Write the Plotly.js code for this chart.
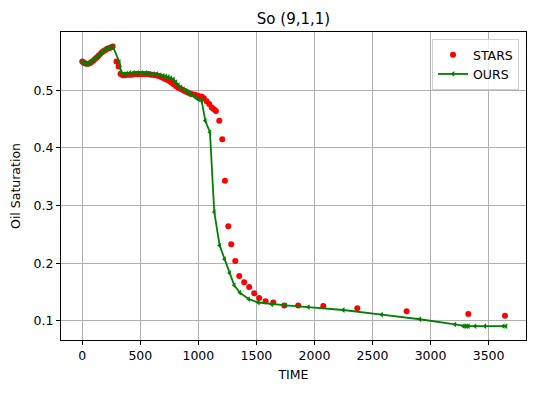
<!DOCTYPE html>
<html>
<head>
<meta charset="utf-8">
<script src="https://cdn.plot.ly/plotly-3.0.1.min.js"></script>
<style>html,body{margin:0;padding:0;background:#fff;}#chart{width:536px;height:393px;}</style>
</head>
<body>
<div id="chart"></div>
<script>
const starsTime = [0,10,20,35,50,65,80,95,110,125,140,155,170,185,200,215,230,245,262,295,313,330,
  350,370,390,410,430,450,470,490,510,530,550,570,590,610,630,
  650,670,690,710,730,750,770,790,810,830,850,870,890,910,930,950,
  972,1001,1028,1048,1071,1094,1115,1134,1151,
  1180,1206,1229,1258,1283,1318,1352,1395,1438,1481,
  1524,1579,1645,1740,1860,2076,2369,2794,3325,3641];
const starsSo = [0.550,0.548,0.547,0.546,0.546,0.547,0.549,0.551,0.554,0.557,
  0.560,0.563,0.566,0.568,0.570,0.572,0.573,0.574,0.576,
  0.550,0.541,0.528,
  0.526,0.526,0.527,0.527,0.527,0.528,0.528,0.528,0.528,0.528,0.528,0.528,0.527,0.527,0.526,
  0.525,0.524,0.522,0.520,0.518,0.516,0.513,0.510,0.507,0.504,0.502,0.500,0.498,0.496,0.494,0.493,
  0.492,0.490,0.489,0.486,0.481,0.476,0.470,0.467,0.464,
  0.447,0.415,0.343,0.264,0.233,0.204,0.178,0.167,0.159,0.148,
  0.140,0.134,0.132,0.127,0.127,0.126,0.122,0.117,0.112,0.109];

const oursTime = [0,15,30,45,60,75,90,105,120,135,150,165,180,195,210,225,240,252,264,319,
  333,360,382,410,439,475,511,547,583,612,641,670,698,720,741,763,785,806,827,849,
  870,892,913,932,951,968,985,1005,1028,1060,1100,1137,1183,1226,1269,1309,1358,1433,1516,1631,
  1754,1947,2248,2578,2908,3210,3282,3297,3311,3326,3383,3468,3626,3649];
const oursSo = [0.549,0.547,0.546,0.546,0.547,0.549,0.551,0.554,0.557,0.560,
  0.563,0.566,0.568,0.570,0.572,0.573,0.574,0.575,0.576,0.549,
  0.532,0.528,0.529,0.530,0.530,0.530,0.530,0.530,0.529,0.528,
  0.528,0.526,0.525,0.524,0.523,0.521,0.519,0.514,0.509,0.505,
  0.502,0.499,0.496,0.494,0.492,0.489,0.486,0.484,0.482,0.447,
  0.427,0.289,0.231,0.207,0.183,0.162,0.149,0.138,0.132,0.129,
  0.127,0.124,0.119,0.111,0.103,0.094,0.091,0.091,0.091,0.091,
  0.091,0.091,0.091,0.091];

const xTicks = [0,500,1000,1500,2000,2500,3000,3500];
const yTicks = [0.1,0.2,0.3,0.4,0.5];

const font = {family: 'DejaVu Sans, sans-serif', size: 12.5, color: '#000'};

const traces = [
  {x: starsTime, y: starsSo, name: 'STARS', type: 'scatter', mode: 'markers',
   marker: {color: '#ff0000', size: 6}},
  {x: oursTime, y: oursSo, name: 'OURS', type: 'scatter', mode: 'lines+markers',
   line: {color: '#008000', width: 1.8},
   marker: {color: '#008000', size: 5, symbol: 'triangle-left'}}
];

const axisCommon = {
  showline: true, mirror: true, linecolor: '#000', linewidth: 1,
  showgrid: true, gridcolor: '#b0b0b0', gridwidth: 1,
  ticks: 'outside', ticklen: 4, tickcolor: '#000', tickwidth: 1,
  zeroline: false, tickfont: font
};

const layout = {
  width: 536, height: 393,
  margin: {l: 61, r: 10, t: 32, b: 53},
  paper_bgcolor: '#fff', plot_bgcolor: '#fff',
  font: font,
  title: {text: 'So (9,1,1)', font: {family: 'DejaVu Sans, sans-serif', size: 15, color: '#000'},
          x: 0.5, xref: 'paper', y: 1, yref: 'paper', yanchor: 'bottom', pad: {b: 8}},
  xaxis: Object.assign({}, axisCommon, {
    range: [-183, 3822], tickvals: xTicks, ticktext: xTicks.map(String),
    title: {text: 'TIME', font: font, standoff: 8}
  }),
  yaxis: Object.assign({}, axisCommon, {
    range: [0.067, 0.601], tickvals: yTicks, ticktext: yTicks.map(v => v.toFixed(1)),
    title: {text: 'Oil Saturation', font: font, standoff: 10}
  }),
  showlegend: true,
  legend: {x: 0.985, xanchor: 'right', y: 0.977, yanchor: 'top',
           bgcolor: 'rgba(255,255,255,0.8)', bordercolor: '#d0d0d0', borderwidth: 1,
           font: font}
};

Plotly.newPlot('chart', traces, layout, {displayModeBar: false, staticPlot: true});
</script>
</body>
</html>
